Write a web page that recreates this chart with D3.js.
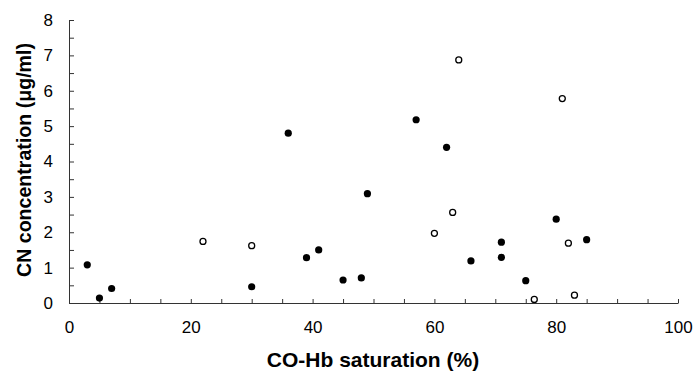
<!DOCTYPE html>
<html>
<head>
<meta charset="utf-8">
<script src="https://cdn.jsdelivr.net/npm/d3@7"></script>
<style>
  body { margin: 0; background: #fff; }
  svg text { font-family: "Liberation Sans", Arial, sans-serif; fill: #000; }
</style>
</head>
<body>
<svg id="chart"></svg>
<script>
// filled circles
var filledX = [3, 5, 7, 30, 36, 39, 41, 45, 48, 49, 57, 62, 66, 71, 71, 75, 80, 85];
var filledY = [1.08, 0.14, 0.41, 0.46, 4.80, 1.28, 1.50, 0.65, 0.71, 3.09, 5.18, 4.40, 1.19, 1.72, 1.29, 0.63, 2.37, 1.79];
// open circles
var openX = [22, 30, 60, 63, 64, 76.4, 81, 82, 83];
var openY = [1.74, 1.62, 1.97, 2.56, 6.87, 0.10, 5.78, 1.69, 0.22];

var xTicks = [0, 20, 40, 60, 80, 100];
var yTicks = [0, 1, 2, 3, 4, 5, 6, 7, 8];
var xTitle = "CO-Hb saturation (%)";
var yTitle = "CN concentration (\u03bcg/ml)";

var W = 694, H = 372;
var margin = {top: 20, right: 16, bottom: 69, left: 69};
var width = W - margin.left - margin.right,
    height = H - margin.top - margin.bottom;

var svg = d3.select("#chart").attr("width", W).attr("height", H);
var g = svg.append("g").attr("transform", "translate(" + margin.left + "," + margin.top + ")");

var x = d3.scaleLinear().domain([0, 100]).range([0, width]);
var y = d3.scaleLinear().domain([0, 8]).range([height, 0]);

// minor ticks every 5 / 0.5
var xAxis = d3.axisBottom(x)
  .tickValues(d3.range(0, 101, 5))
  .tickSizeInner(-4).tickSizeOuter(0).tickPadding(18)
  .tickFormat(function(d) { return xTicks.indexOf(d) >= 0 ? d : ""; });

var yAxis = d3.axisLeft(y)
  .tickValues(d3.range(0, 8.01, 0.5))
  .tickSizeInner(-5).tickSizeOuter(0).tickPadding(16)
  .tickFormat(function(d) { return yTicks.indexOf(d) >= 0 ? d : ""; });

var gx = g.append("g").attr("transform", "translate(0," + height + ")").call(xAxis);
var gy = g.append("g").call(yAxis);

[gx, gy].forEach(function(a) {
  a.select(".domain").attr("stroke", "#333");
  a.selectAll(".tick line").attr("stroke", "#333");
  a.selectAll(".tick text").style("font-size", "17px");
});

g.selectAll(".filled")
  .data(filledX)
  .enter().append("circle")
    .attr("class", "filled")
    .attr("cx", function(d) { return x(d); })
    .attr("cy", function(d, i) { return y(filledY[i]); })
    .attr("r", 3.6)
    .attr("fill", "#000");

g.selectAll(".open")
  .data(openX)
  .enter().append("circle")
    .attr("class", "open")
    .attr("cx", function(d) { return x(d); })
    .attr("cy", function(d, i) { return y(openY[i]); })
    .attr("r", 3)
    .attr("fill", "#fff")
    .attr("stroke", "#000")
    .attr("stroke-width", 1.3);

svg.append("text")
  .attr("x", 373).attr("y", 367)
  .attr("text-anchor", "middle")
  .style("font-size", "21px").style("font-weight", "bold")
  .text(xTitle);

svg.append("text")
  .attr("transform", "translate(31,160) rotate(-90)")
  .attr("text-anchor", "middle")
  .attr("textLength", 234)
  .attr("lengthAdjust", "spacingAndGlyphs")
  .style("font-size", "20px").style("font-weight", "bold")
  .text(yTitle);
</script>
</body>
</html>
